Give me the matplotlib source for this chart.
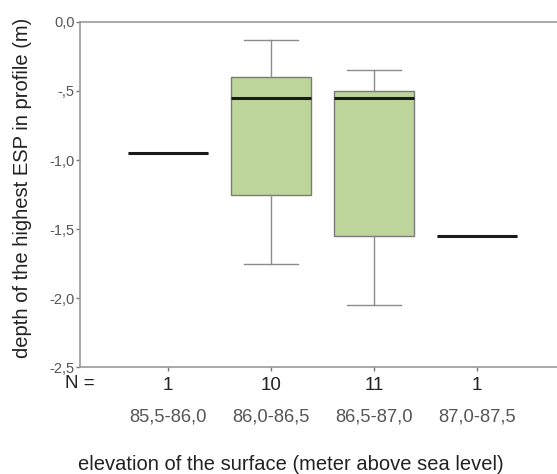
import matplotlib
matplotlib.use("Agg")
import matplotlib.pyplot as plt

plt.rcParams['font.family'] = ['Liberation Sans', 'DejaVu Sans']

# elevation classes and box statistics (depth in m)
classes = ['85,5-86,0', '86,0-86,5', '86,5-87,0', '87,0-87,5']
n_obs = [1, 10, 11, 1]
whis_hi = [-0.95, -0.13, -0.35, -1.55]
q3 = [-0.95, -0.40, -0.50, -1.55]
median = [-0.95, -0.55, -0.55, -1.55]
q1 = [-0.95, -1.25, -1.55, -1.55]
whis_lo = [-0.95, -1.75, -2.05, -1.55]

yticks = [0.0, -0.5, -1.0, -1.5, -2.0, -2.5]
ytick_labels = ['0,0', '-,5', '-1,0', '-1,5', '-2,0', '-2,5']

fig = plt.figure(figsize=(5.57, 4.74), dpi=100)
ax = fig.add_axes([0.1436, 0.2257, 0.8564, 0.7279])

stats = []
for i in range(len(classes)):
    stats.append({'med': median[i], 'q1': q1[i], 'q3': q3[i],
                  'whislo': whis_lo[i], 'whishi': whis_hi[i],
                  'fliers': [], 'label': str(n_obs[i])})

grey = '#8c8c8c'
ax.bxp(stats, positions=[1, 2, 3, 4], widths=0.78, patch_artist=True,
       showfliers=False,
       boxprops=dict(facecolor='#bdd59b', edgecolor='#7a7a7a', linewidth=1.0),
       medianprops=dict(color='#1a1a1a', linewidth=2.2),
       whiskerprops=dict(color=grey, linewidth=1.0),
       capprops=dict(color=grey, linewidth=1.0),
       capwidths=0.52)

ax.set_xlim(0.146, 4.777)
ax.set_ylim(-2.5, 0.0)
ax.set_yticks(yticks)
ax.set_yticklabels(ytick_labels, fontsize=10.5, color='#555555')
ax.set_xticks([1, 2, 3, 4])
ax.set_xticklabels([str(n) for n in n_obs], fontsize=13.5, color='#222222')

for s in ['top', 'left', 'bottom']:
    ax.spines[s].set_color('#999999')
    ax.spines[s].set_linewidth(1.2)
ax.spines['right'].set_visible(False)
ax.tick_params(axis='both', length=3, width=1, color='#777777', pad=1)
ax.tick_params(axis='x', pad=4)

ax.text(0.031, -0.047, 'N =', transform=ax.transAxes, fontsize=13.5,
        color='#222222', ha='right', va='center')
for i, c in enumerate(classes):
    ax.text(i + 1, -0.145, c, transform=ax.get_xaxis_transform(),
            fontsize=13.2, color='#555555', ha='center', va='center')

ax.set_ylabel('depth of the highest ESP in profile (m)', fontsize=14.5,
              color='#222222')
ax.yaxis.set_label_coords(-0.10, 0.52)
fig.text(0.523, 0.019, 'elevation of the surface (meter above sea level)',
         fontsize=14.5, color='#222222', ha='center', va='center')

fig.savefig('out.png', dpi=100)
